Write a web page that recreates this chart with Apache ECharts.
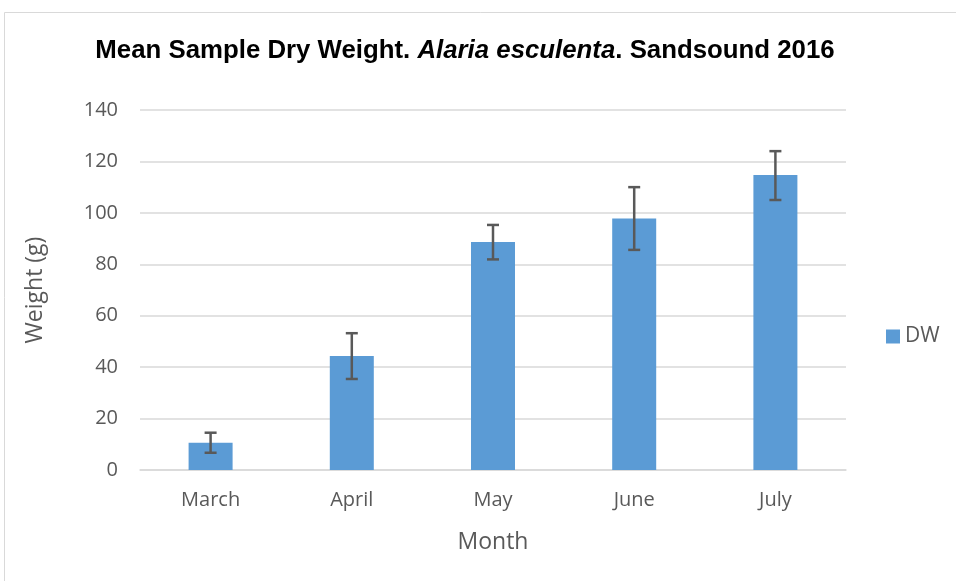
<!DOCTYPE html>
<html><head><meta charset="utf-8">
<script src="https://cdn.jsdelivr.net/npm/echarts@6/dist/echarts.min.js"></script>
<style>html,body{margin:0;padding:0;background:#fff}#c{width:956px;height:581px}</style>
</head><body><div id="c"></div>
<script>
const categories = ['March', 'April', 'May', 'June', 'July'];
const dwValues = [10.6, 44.3, 88.7, 97.8, 114.7];
const errLow = [6.7, 35.4, 81.9, 85.6, 105.0];
const errHigh = [14.5, 53.2, 95.3, 110.0, 124.0];
const yTicks = [0, 20, 40, 60, 80, 100, 120, 140];

const TFONT = 'Liberation Sans';
const FONT = 'Open Sans';
const chart = echarts.init(document.getElementById('c'));
chart.setOption({
  animation: false,
  backgroundColor: '#fff',
  graphic: [{
    type: 'rect', shape: {x: 4.5, y: 12.5, width: 960, height: 580},
    style: {fill: 'none', stroke: '#d9d9d9', lineWidth: 1}, z: -1
  }],
  title: {
    text: '{b|Mean Sample Dry Weight. }{i|Alaria esculenta}{b|. Sandsound 2016}',
    left: 460, top: 33, textAlign: 'center',
    textStyle: {
      rich: {
        b: {fontFamily: TFONT, fontWeight: 'bold', fontSize: 25.8, color: '#000'},
        i: {fontFamily: TFONT, fontWeight: 'bold', fontStyle: 'italic', fontSize: 25.8, color: '#000'}
      }
    }
  },
  legend: {
    data: ['DW'], left: 886, top: 326, orient: 'vertical', padding: 0,
    itemWidth: 14, itemHeight: 14, itemGap: 8,
    icon: 'rect',
    textStyle: {fontFamily: FONT, fontSize: 21, color: '#595959', padding: [0, 0, 0, 0]}
  },
  grid: {left: 140, right: 110, top: 110, bottom: 111, containLabel: false},
  xAxis: {
    type: 'category', data: categories,
    name: 'Month', nameLocation: 'middle', nameGap: 61,
    nameTextStyle: {fontFamily: FONT, fontSize: 23, color: '#595959'},
    axisTick: {show: false},
    axisLine: {lineStyle: {color: '#d9d9d9', width: 1.5}},
    axisLabel: {fontFamily: FONT, fontSize: 20, color: '#595959', margin: 20}
  },
  yAxis: {
    type: 'value', min: 0, max: 140, interval: 20,
    name: 'Weight (g)', nameLocation: 'middle', nameGap: 93, nameRotate: 90,
    nameTextStyle: {fontFamily: FONT, fontSize: 23, color: '#595959'},
    axisLine: {show: false}, axisTick: {show: false},
    axisLabel: {fontFamily: FONT, fontSize: 20, color: '#595959', margin: 22,
      formatter: v => yTicks.includes(v) ? String(v) : ''},
    splitLine: {lineStyle: {color: '#d9d9d9', width: 1.5}}
  },
  series: [{
    name: 'DW', type: 'bar', data: dwValues, barWidth: 44,
    itemStyle: {color: '#5b9bd5'}
  }, {
    name: 'err', type: 'custom', z: 10,
    data: categories.map((c, i) => [i, errLow[i], errHigh[i]]),
    renderItem: function (params, api) {
      const x = api.value(0);
      const lo = api.coord([x, api.value(1)]);
      const hi = api.coord([x, api.value(2)]);
      const hw = 6;
      const st = {stroke: '#595959', lineWidth: 2.5, fill: 'none'};
      return {type: 'group', children: [
        {type: 'line', shape: {x1: lo[0], y1: lo[1], x2: hi[0], y2: hi[1]}, style: st},
        {type: 'line', shape: {x1: lo[0] - hw, y1: lo[1], x2: lo[0] + hw, y2: lo[1]}, style: st},
        {type: 'line', shape: {x1: hi[0] - hw, y1: hi[1], x2: hi[0] + hw, y2: hi[1]}, style: st}
      ]};
    }
  }]
});
</script></body></html>
